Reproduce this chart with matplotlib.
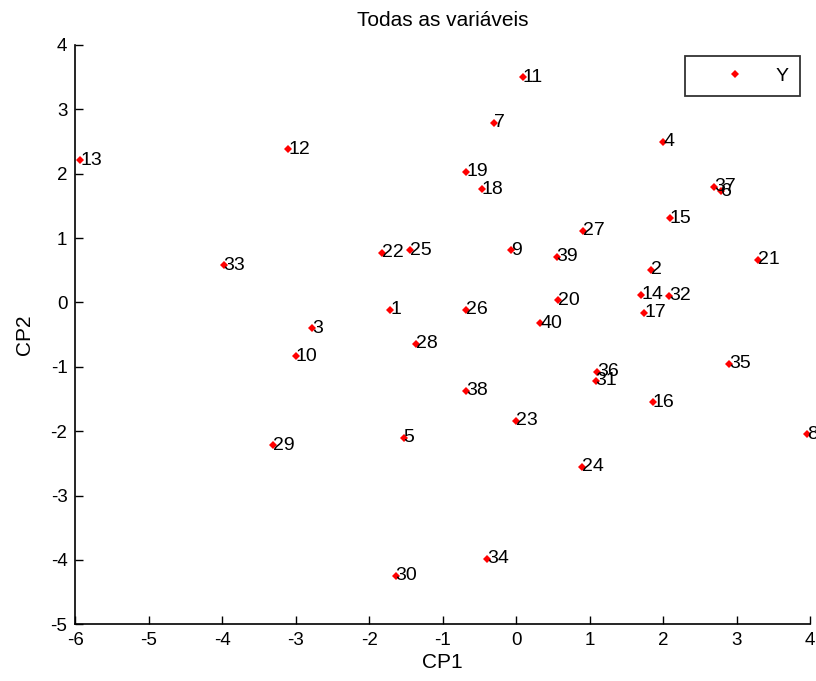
import numpy as np
import matplotlib.pyplot as plt

plt.rcParams['font.family'] = ['Liberation Sans', 'DejaVu Sans']
plt.rcParams['axes.unicode_minus'] = False

# scores on the first two principal components, observations 1..40
cp1 = [-1.71, 1.84, -2.78, 2.00, -1.53, 2.79, -0.30, 3.96, -0.07, -3.00,
       0.09, -3.10, -5.93, 1.70, 2.09, 1.86, 1.74, -0.47, -0.68, 0.57,
       3.29, -1.83, 0.00, 0.90, -1.45, -0.68, 0.91, -1.36, -3.31, -1.64,
       1.08, 2.08, -3.98, -0.40, 2.90, 1.10, 2.69, -0.68, 0.55, 0.33]
cp2 = [-0.11, 0.51, -0.40, 2.50, -2.10, 1.73, 2.79, -2.05, 0.81, -0.84,
       3.50, 2.38, 2.21, 0.12, 1.31, -1.55, -0.16, 1.76, 2.03, 0.03,
       0.66, 0.77, -1.84, -2.55, 0.81, -0.11, 1.11, -0.64, -2.22, -4.25,
       -1.22, 0.10, 0.58, -3.98, -0.95, -1.08, 1.80, -1.37, 0.71, -0.32]
rotulos = [str(i) for i in range(1, 41)]

fig = plt.figure(figsize=(8.16, 6.81), dpi=100)
ax = fig.add_axes([0.092, 0.0833, 0.901, 0.8507])

ax.plot(cp1, cp2, 'D', color='red', markersize=4, markeredgewidth=0, label='Y')
for x, y, r in zip(cp1, cp2, rotulos):
    ax.text(x, y, r, fontsize=14, ha='left', va='center', color='black')

ax.set_xlim(-6, 4)
ax.set_ylim(-5, 4)
ax.set_xticks(np.arange(-6, 5, 1))
ax.set_yticks(np.arange(-5, 5, 1))
ax.spines['top'].set_visible(False)
ax.spines['right'].set_visible(False)
for s in ['left', 'bottom']:
    ax.spines[s].set_linewidth(1.2)
ax.tick_params(direction='in', length=6, width=1, labelsize=13.5, pad=5.5)

ax.set_title('Todas as variáveis', fontsize=15, pad=14)
ax.set_xlabel('CP1', fontsize=15, labelpad=3)
ax.set_ylabel('CP2', fontsize=15, labelpad=12)

leg = ax.legend(loc='upper right', bbox_to_anchor=(0.986, 0.9815), borderaxespad=0,
                fancybox=False, edgecolor='black', fontsize=14, markerscale=1,
                handlelength=4.0, handletextpad=0.1, borderpad=0.58)
leg.get_frame().set_linewidth(1.3)

fig.savefig('out.png', dpi=100)
